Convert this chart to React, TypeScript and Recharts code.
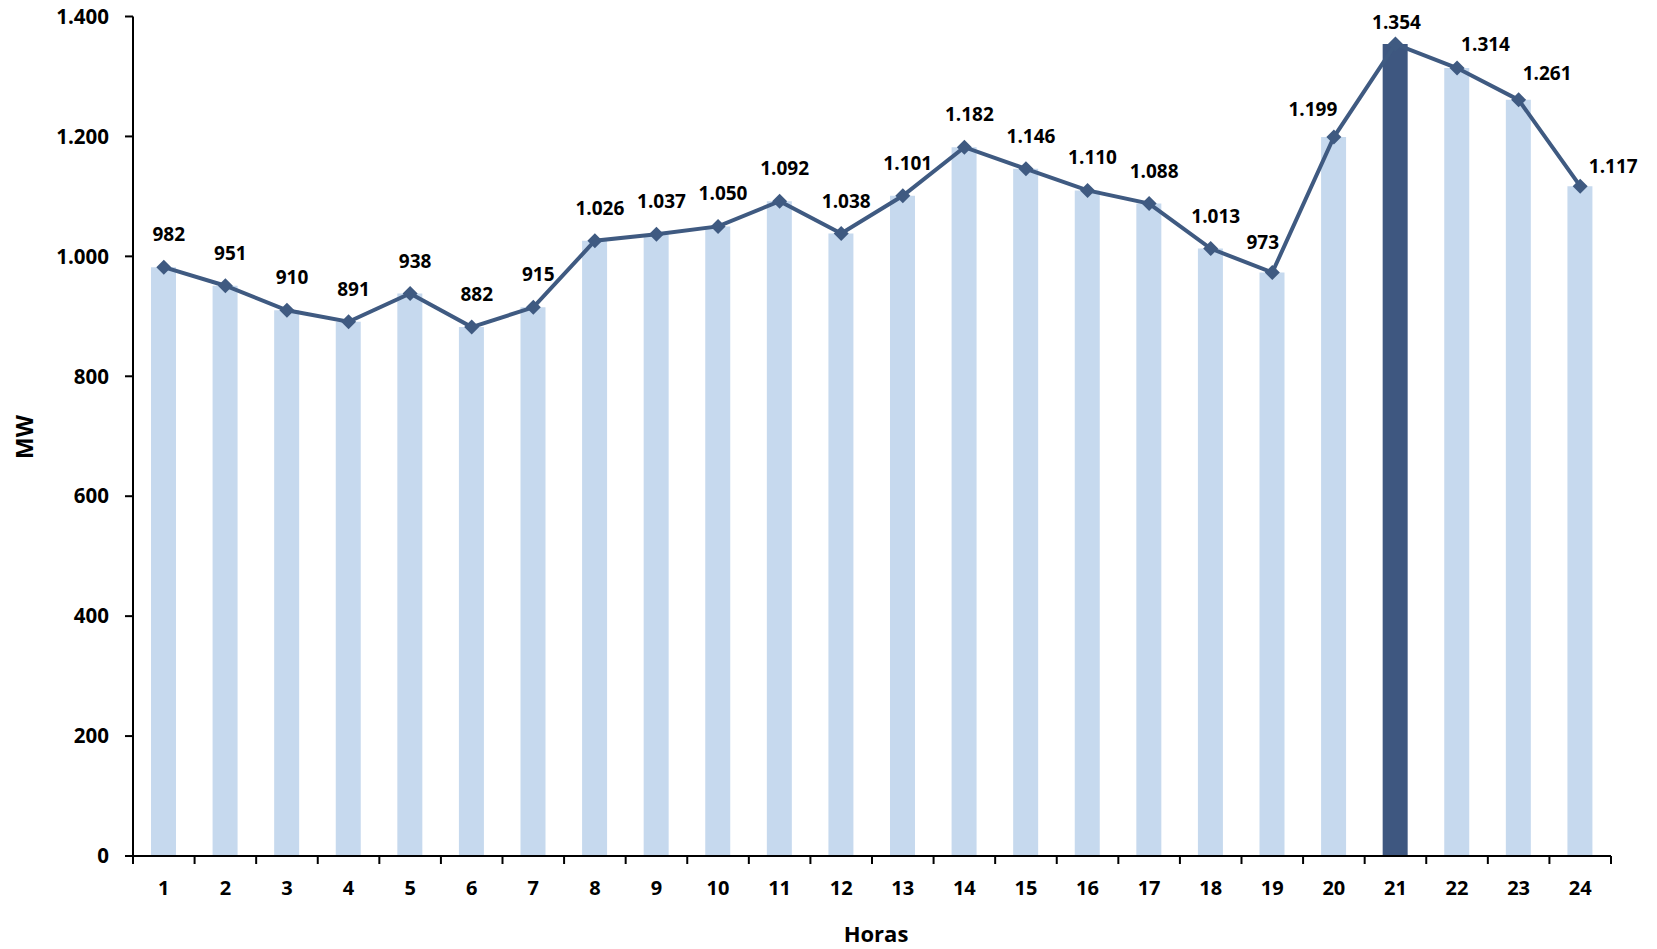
import React from 'react';
import { ComposedChart, Bar, Line, XAxis, YAxis, Cell, LabelList, Label } from 'recharts';

const hours = ['1','2','3','4','5','6','7','8','9','10','11','12','13','14','15','16','17','18','19','20','21','22','23','24'];
const demandMW = [982, 951, 910, 891, 938, 882, 915, 1026, 1037, 1050, 1092, 1038, 1101, 1182, 1146, 1110, 1088, 1013, 973, 1199, 1354, 1314, 1261, 1117];
const yTicks = [0, 200, 400, 600, 800, 1000, 1200, 1400];
const peakHour = '21';

const data = hours.map((h, i) => ({ hour: h, mw: demandMW[i] }));

const W = 1657;
const H = 949;
const M = { top: 16.5, right: 46, bottom: 0, left: 0 };
const Y_W = 133;
const X_H = 93;
const BAND = (W - M.right - Y_W) / hours.length;

const FONT = '"Open Sans", Lato, sans-serif';
const LIGHT = '#C6D9EE';
const DARK = '#3E5780';
const LINE = '#3F5A81';

const fmt = (n: number) =>
  n >= 1000 ? `${Math.floor(n / 1000)}.${String(n % 1000).padStart(3, '0')}` : String(n);

const labelShift: Record<number, [number, number]> = {
  18: [-9.5, -31],
  19: [-21, -28.5],
  20: [1, -22],
  21: [28.5, -24],
  22: [28.5, -26.5],
  23: [33, -20],
};

const XTick = (props: any) => {
  const { x, y, payload, index } = props;
  const axisY = y - 8;
  return (
    <g>
      <line x1={x - BAND / 2} x2={x - BAND / 2} y1={axisY} y2={axisY + 8} stroke="#000" strokeWidth={2} />
      {index === hours.length - 1 && (
        <line x1={x + BAND / 2} x2={x + BAND / 2} y1={axisY} y2={axisY + 8} stroke="#000" strokeWidth={2} />
      )}
      <text x={x} y={axisY + 31} textAnchor="middle" dominantBaseline="central" fontFamily={FONT} fontWeight={700} fontSize={20} fill="#000">
        {payload.value}
      </text>
    </g>
  );
};

const Diamond = (props: any) => {
  const { cx, cy } = props;
  if (cx == null || cy == null) return null;
  const r = 7.5;
  return <polygon points={`${cx},${cy - r} ${cx + r},${cy} ${cx},${cy + r} ${cx - r},${cy}`} fill={LINE} />;
};

const DataLabel = (props: any) => {
  const { x, y, value, index } = props;
  const [dx, dy] = labelShift[index] ?? [5, -33];
  return (
    <text x={x + dx} y={y + dy} textAnchor="middle" dominantBaseline="central" fontFamily={FONT} fontWeight={700} fontSize={19} fill="#000">
      {fmt(value)}
    </text>
  );
};

export default function App() {
  return (
    <div style={{ position: 'absolute', left: 0, top: 0, width: W, height: H, background: '#fff' }}>
      <ComposedChart width={W} height={H} data={data} margin={M}>
        <XAxis
          dataKey="hour"
          height={X_H}
          tickLine={false}
          tickSize={8}
          tickMargin={0}
          axisLine={{ stroke: '#000', strokeWidth: 2 }}
          tick={<XTick />}
          interval={0}
        >
          <Label
            content={() => (
              <text x={876} y={933} textAnchor="middle" dominantBaseline="central" fontFamily={FONT} fontWeight={700} fontSize={22} fill="#000">
                Horas
              </text>
            )}
          />
        </XAxis>
        <YAxis
          width={Y_W}
          domain={[0, 1400]}
          ticks={yTicks}
          interval={0}
          tickSize={8}
          tickMargin={16}
          tickFormatter={fmt}
          axisLine={{ stroke: '#000', strokeWidth: 2 }}
          tickLine={{ stroke: '#000', strokeWidth: 2 }}
          tick={{ fontFamily: FONT, fontWeight: 700, fontSize: 20.5, fill: '#000' }}
        >
          <Label
            content={() => (
              <text x={24} y={437} textAnchor="middle" dominantBaseline="central" fontFamily={FONT} fontWeight={700} fontSize={23} fill="#000" transform="rotate(-90 24 437)">
                MW
              </text>
            )}
          />
        </YAxis>
        <Bar dataKey="mw" barSize={25} isAnimationActive={false}>
          {data.map((d) => (
            <Cell key={d.hour} fill={d.hour === peakHour ? DARK : LIGHT} />
          ))}
        </Bar>
        <Line
          dataKey="mw"
          stroke={LINE}
          strokeWidth={4}
          dot={<Diamond />}
          activeDot={false}
          isAnimationActive={false}
        >
          <LabelList dataKey="mw" content={<DataLabel />} />
        </Line>
      </ComposedChart>
    </div>
  );
}
